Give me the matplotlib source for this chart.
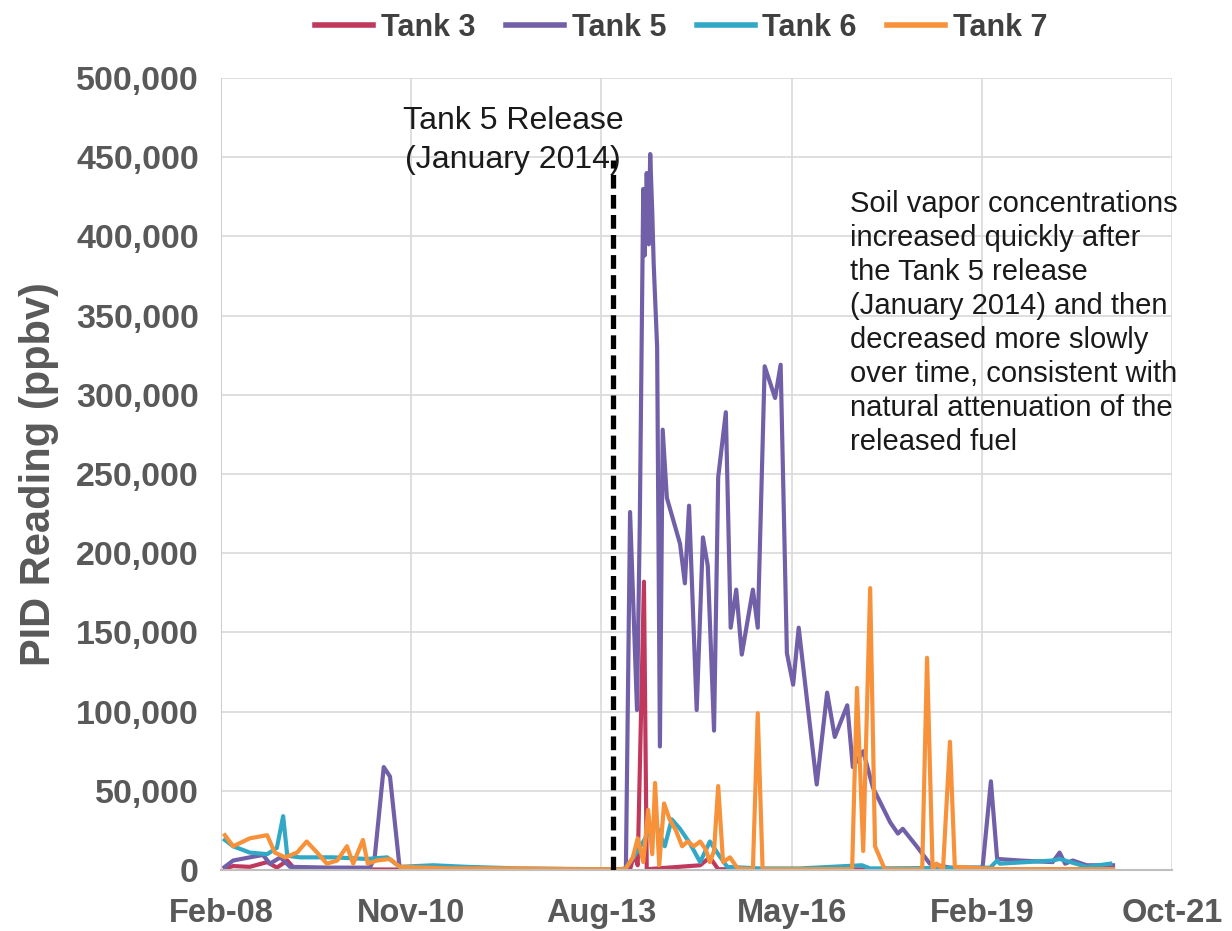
import numpy as np
import pandas as pd
import matplotlib
matplotlib.use("Agg")
import matplotlib.pyplot as plt


# sample dates as decimal years, readings in ppbv
tank3_t = [2008.14, 2008.26, 2008.50, 2008.75, 2008.89, 2009.04, 2009.15, 2010.66,
           2013.83, 2013.98, 2014.04, 2014.09, 2014.18, 2014.22, 2014.99, 2015.13,
           2015.25, 2020.94]
tank3_v = [1000, 2500, 2000, 5000, 1500, 6000, 500, 300,
           300, 500, 10000, 3000, 182000, 500, 3000, 8000,
           500, 300]

tank5_t = [2008.14, 2008.26, 2008.50, 2008.69, 2008.79, 2008.94, 2009.08, 2009.66,
           2010.23, 2010.30, 2010.43, 2010.52, 2010.66, 2011.38, 2012.83, 2013.83,
           2013.92, 2013.98, 2014.08, 2014.12, 2014.17, 2014.19, 2014.22, 2014.25,
           2014.27, 2014.30, 2014.32, 2014.37, 2014.41, 2014.45, 2014.51, 2014.70,
           2014.77, 2014.83, 2014.94, 2015.03, 2015.10, 2015.19, 2015.25, 2015.36,
           2015.43, 2015.51, 2015.59, 2015.75, 2015.82, 2015.92, 2016.07, 2016.15,
           2016.24, 2016.33, 2016.41, 2016.67, 2016.82, 2016.93, 2017.11, 2017.19,
           2017.34, 2017.48, 2017.73, 2017.84, 2017.91, 2018.11, 2018.30, 2018.59,
           2019.06, 2019.18, 2019.27, 2019.60, 2020.07, 2020.17, 2020.25, 2020.36,
           2020.56, 2020.94]
tank5_v = [2000, 6000, 8000, 9500, 4000, 8000, 2000, 1500,
           1500, 8000, 65000, 59000, 1000, 500, 300, 500,
           1000, 226000, 101000, 219000, 430000, 388000, 440000, 395000,
           452000, 415000, 383000, 330000, 78000, 278000, 235000, 206000,
           181000, 230000, 101000, 210000, 192000, 88000, 248000, 289000,
           153000, 177000, 136000, 177000, 153000, 318000, 298000, 319000,
           137000, 117000, 153000, 54000, 112000, 84000, 104000, 65000,
           75000, 52000, 30000, 23000, 26000, 15000, 4000, 1500,
           1500, 56000, 7000, 6000, 5000, 11000, 4000, 6000,
           3000, 3000]

tank6_t = [2008.14, 2008.26, 2008.50, 2008.75, 2008.89, 2008.98, 2009.04, 2009.22,
           2009.70, 2010.19, 2010.48, 2010.66, 2011.14, 2011.63, 2012.39, 2013.55,
           2013.91, 2014.09, 2014.24, 2014.34, 2014.48, 2014.58, 2014.70, 2014.84,
           2014.99, 2015.13, 2015.25, 2015.38, 2015.85, 2016.43, 2017.32, 2017.44,
           2019.17, 2019.27, 2019.31, 2020.07, 2020.17, 2020.56, 2020.90]
tank6_v = [19000, 15000, 11000, 10000, 14000, 34000, 9000, 8000,
           8000, 7000, 8000, 2000, 3000, 2000, 1000, 500,
           500, 12000, 23000, 30000, 15000, 32000, 26000, 17000,
           5000, 18000, 10000, 2000, 1000, 1000, 3000, 1000,
           1500, 6000, 4000, 6000, 7000, 2000, 4000]

tank7_t = [2008.14, 2008.26, 2008.50, 2008.75, 2008.86, 2009.01, 2009.18, 2009.32,
           2009.47, 2009.61, 2009.76, 2009.90, 2009.99, 2010.13, 2010.20, 2010.33,
           2010.52, 2010.66, 2011.38, 2012.39, 2013.26, 2013.91, 2014.02, 2014.09,
           2014.17, 2014.24, 2014.30, 2014.34, 2014.40, 2014.47, 2014.55, 2014.64,
           2014.73, 2014.81, 2014.90, 2014.99, 2015.07, 2015.13, 2015.19, 2015.25,
           2015.32, 2015.42, 2015.53, 2015.75, 2015.82, 2015.89, 2017.18, 2017.25,
           2017.34, 2017.44, 2017.51, 2017.65, 2018.19, 2018.26, 2018.34, 2018.40,
           2018.49, 2018.59, 2018.66, 2019.31, 2020.94]
tank7_v = [22000, 15000, 20000, 22000, 11000, 8000, 11000, 18000,
           11000, 4000, 6000, 15000, 4000, 19000, 4000, 6000,
           7000, 2000, 1000, 1000, 500, 500, 8000, 20000,
           5000, 38000, 10000, 55000, 3000, 42000, 32000, 25000,
           15000, 18000, 15000, 18000, 13000, 5000, 12000, 53000,
           5000, 8000, 1000, 500, 99000, 500, 500, 115000,
           12000, 178000, 15000, 500, 500, 134000, 500, 4000,
           500, 81000, 2000, 500, 500]

series_names = ["Tank 3", "Tank 5", "Tank 6", "Tank 7"]
series_colors = ["#C0395C", "#7160A8", "#31A8C6", "#F7923A"]

x_labels = ["Feb-08", "Nov-10", "Aug-13", "May-16", "Feb-19", "Oct-21"]
x_start, x_end = 2008.085, 2021.79
release_t = 2013.73
release_top = 448000

note_text = ("Soil vapor concentrations\nincreased quickly after\nthe Tank 5 release\n"
             "(January 2014) and then\ndecreased more slowly\nover time, consistent with\n"
             "natural attenuation of the\nreleased fuel")

plt.rcParams['font.family'] = ['Liberation Sans', 'DejaVu Sans']
grey = "#595959"

fig = plt.figure(figsize=(12.32, 9.31), dpi=100)
ax = fig.add_axes([0.1794, 0.0655, 0.7719, 0.8507])

all_t = [tank3_t, tank5_t, tank6_t, tank7_t]
all_v = [tank3_v, tank5_v, tank6_v, tank7_v]
for t, v, name, color in zip(all_t, all_v, series_names, series_colors):
    ax.plot(t, v, color=color, lw=3.0, label=name)

# release marker
ax.plot([release_t, release_t], [0, release_top], color="black", lw=3.8,
        dashes=(2.6, 1.2), zorder=5)
ax.text(0.307, 0.921, "Tank 5 Release\n(January 2014)", transform=ax.transAxes,
        ha='center', va='center', fontsize=23, color="#1a1a1a", linespacing=1.4)
ax.text(0.661, 0.858, note_text, transform=ax.transAxes, ha='left', va='top',
        fontsize=21, color="#1a1a1a", linespacing=1.27)

ax.set_xlim(x_start, x_end)
ax.set_ylim(0, 500000)
ax.set_xticks(np.linspace(x_start, x_end, len(x_labels)))
ax.set_xticklabels(x_labels)
ax.set_yticks(np.arange(0, 500001, 50000))
ax.yaxis.set_major_formatter(matplotlib.ticker.FuncFormatter(lambda v, p: f"{int(v):,}"))

ax.tick_params(axis='both', length=0, labelcolor=grey)
ax.tick_params(axis='x', pad=20, labelsize=23.5)
ax.tick_params(axis='y', pad=16, labelsize=24.5)
for lab in ax.get_xticklabels() + ax.get_yticklabels():
    lab.set_fontweight('bold')

ax.grid(True, color="#d9d9d9", lw=1.2)
ax.set_axisbelow(True)
for side in ['top', 'right']:
    ax.spines[side].set_visible(False)
ax.spines['left'].set_color("#d0d0d0")
ax.spines['bottom'].set_color("#bfbfbf")
ax.spines['bottom'].set_linewidth(1.5)

ax.set_ylabel("PID Reading (ppbv)", fontsize=30, fontweight='bold', color=grey, labelpad=12)

leg = fig.legend(loc='center', bbox_to_anchor=(0.553, 0.97), ncol=4, frameon=False,
                 fontsize=22, handlelength=1.9, handletextpad=0.25, columnspacing=1.0)
for txt in leg.get_texts():
    txt.set_fontweight('bold')
    txt.set_color("#404040")
for line in leg.get_lines():
    line.set_linewidth(4)

fig.savefig("out.png", dpi=100)
